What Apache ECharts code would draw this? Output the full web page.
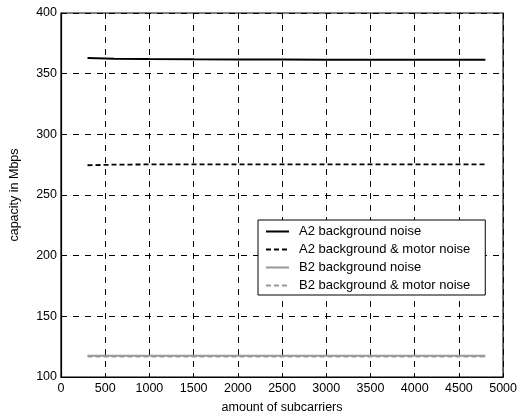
<!DOCTYPE html>
<html>
<head>
<meta charset="utf-8">
<script src="https://cdn.jsdelivr.net/npm/echarts@6/dist/echarts.min.js"></script>
<style>
  html, body { margin: 0; padding: 0; background: #fff; }
  #chart { width: 520px; height: 419px; }
</style>
</head>
<body>
<div id="chart"></div>
<script>
// Capacity versus number of subcarriers for two channel setups
const subcarriers = [300, 600, 1000, 1500, 2000, 2500, 3000, 3500, 4000, 4500, 4800];
const a2Background = [363.0, 362.2, 362.0, 361.8, 361.7, 361.6, 361.5, 361.5, 361.4, 361.4, 361.4];
const a2Motor = [274.5, 275.0, 275.2, 275.3, 275.3, 275.3, 275.3, 275.3, 275.3, 275.3, 275.3];
const b2Background = [117.6, 117.6, 117.6, 117.6, 117.6, 117.6, 117.6, 117.6, 117.6, 117.6, 117.6];
const b2Motor = [116.9, 116.9, 116.9, 116.9, 116.9, 116.9, 116.9, 116.9, 116.9, 116.9, 116.9];
const seriesNames = [
  'A2 background noise',
  'A2 background & motor noise',
  'B2 background noise',
  'B2 background & motor noise'
];

const pairs = arr => subcarriers.map((x, i) => [x, arr[i]]);
const font = 'Liberation Sans, Arial, Helvetica, sans-serif';

const chart = echarts.init(document.getElementById('chart'));
chart.setOption({
  animation: false,
  backgroundColor: '#fff',
  grid: {
    left: 61, right: 16, top: 13, bottom: 36,
    show: true, borderColor: '#000', borderWidth: 1.2, backgroundColor: 'transparent'
  },
  xAxis: {
    type: 'value', min: 0, max: 5000, interval: 500,
    name: 'amount of subcarriers', nameLocation: 'middle', nameGap: 24,
    nameTextStyle: { fontFamily: font, fontSize: 12.5, color: '#000' },
    axisLine: { lineStyle: { color: '#000', width: 1.2 } },
    axisTick: { inside: true, length: 4, lineStyle: { color: '#000' } },
    axisLabel: { fontFamily: font, fontSize: 12.5, color: '#000', margin: 5, formatter: v => String(v) },
    splitLine: { show: true, lineStyle: { color: '#000', type: [6, 6], width: 1 } }
  },
  yAxis: {
    type: 'value', min: 100, max: 400, interval: 50,
    name: 'capacity in Mbps', nameLocation: 'middle', nameGap: 40,
    nameTextStyle: { fontFamily: font, fontSize: 12.5, color: '#000' },
    axisLine: { show: true, lineStyle: { color: '#000', width: 1.2 } },
    axisTick: { show: true, inside: true, length: 4, lineStyle: { color: '#000' } },
    axisLabel: { fontFamily: font, fontSize: 12.5, color: '#000', margin: 4 },
    splitLine: { show: true, lineStyle: { color: '#000', type: [6, 6], width: 1 } }
  },
  legend: {
    orient: 'vertical', left: 258, top: 220,
    backgroundColor: '#fff', borderColor: '#000', borderWidth: 1,
    padding: [5, 15, 3, 7],
    itemWidth: 23, itemHeight: 14, itemGap: 5,
    itemStyle: { opacity: 0 },
    textStyle: { fontFamily: font, fontSize: 13, color: '#000', padding: [0, 0, 0, 5] },
    data: seriesNames
  },
  series: [
    { name: seriesNames[0], type: 'line', showSymbol: false, symbol: 'none',
      data: pairs(a2Background), lineStyle: { color: '#000', width: 2 }, itemStyle: { color: '#000' } },
    { name: seriesNames[1], type: 'line', showSymbol: false, symbol: 'none',
      data: pairs(a2Motor), lineStyle: { color: '#000', width: 1.8, type: [5, 3] }, itemStyle: { color: '#000' } },
    { name: seriesNames[2], type: 'line', showSymbol: false, symbol: 'none',
      data: pairs(b2Background), lineStyle: { color: '#999', width: 2 }, itemStyle: { color: '#999' } },
    { name: seriesNames[3], type: 'line', showSymbol: false, symbol: 'none',
      data: pairs(b2Motor), lineStyle: { color: '#999', width: 1.8, type: [5, 3] }, itemStyle: { color: '#999' } }
  ]
});
</script>
</body>
</html>
